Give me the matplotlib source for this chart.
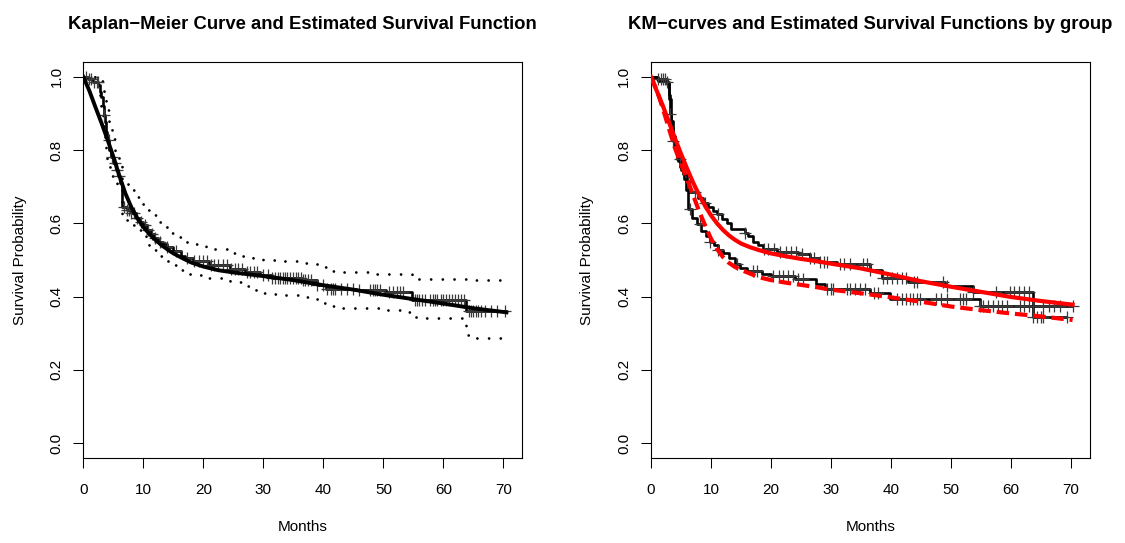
import numpy as np
import matplotlib
matplotlib.use("Agg")
import matplotlib.pyplot as plt

plt.rcParams['font.family'] = ['Liberation Sans', 'DejaVu Sans']

# ---------------- left panel: overall KM + fitted curve ----------------
km_t = [0, 0.8, 1.6, 2.5, 2.8, 3.0, 3.2, 3.4, 3.6, 3.8, 4.0, 4.3, 4.6, 5.0, 5.4, 5.8,
        6.1, 6.4, 7.2, 8.0, 8.8, 9.4, 10.0, 10.6, 11.2, 11.8, 12.4, 13.2, 14.0, 15.0,
        16.2, 17.0, 18.2, 21.0, 24.5, 27.0, 29.5, 31.5, 36.5, 39.0, 40.5, 45.5, 47.5,
        50.5, 54.8, 63.8]
km_s = [1.0, 0.993, 0.986, 0.978, 0.96, 0.945, 0.92, 0.895, 0.876, 0.85, 0.827, 0.80,
        0.781, 0.765, 0.745, 0.73, 0.71, 0.645, 0.637, 0.627, 0.615, 0.605, 0.595, 0.582,
        0.57, 0.56, 0.55, 0.543, 0.535, 0.525, 0.512, 0.505, 0.498, 0.487, 0.476, 0.466,
        0.458, 0.450, 0.444, 0.433, 0.422, 0.419, 0.417, 0.413, 0.390, 0.360]
km_end = 70.6

up_t = [0, 3.0, 3.4, 3.8, 4.3, 4.8, 5.3, 6.0, 6.4, 7.5, 8.6, 9.4, 10.5, 11.6, 12.7, 13.8,
        14.8, 16.0, 17.3, 18.5, 20.4, 22.0, 24.5, 26.0, 28.2, 30.0, 32.0, 36.5, 37.8,
        39.2, 40.5, 42.0, 47.5, 50.0, 54.8, 64.0]
up_s = [1.0, 0.99, 0.95, 0.91, 0.87, 0.83, 0.79, 0.77, 0.71, 0.69, 0.672, 0.654, 0.636,
        0.622, 0.604, 0.59, 0.574, 0.563, 0.549, 0.543, 0.536, 0.529, 0.52, 0.51, 0.505,
        0.50, 0.497, 0.493, 0.489, 0.48, 0.471, 0.467, 0.463, 0.461, 0.448, 0.445]
lo_t = [0, 2.5, 2.8, 3.0, 3.2, 3.4, 3.6, 3.8, 4.0, 4.4, 4.8, 5.2, 5.6, 6.4, 7.6, 8.8, 9.6,
        10.4, 11.0, 11.5, 12.5, 13.6, 14.8, 16.2, 17.5, 19.0, 21.0, 24.5, 27.0, 28.8,
        30.8, 32.5, 36.2, 37.8, 39.3, 40.8, 42.5, 50.0, 53.6, 54.8, 56.5, 63.8, 65.4]
lo_s = [1.0, 0.96, 0.945, 0.92, 0.89, 0.86, 0.83, 0.80, 0.775, 0.745, 0.73, 0.713, 0.69,
        0.61, 0.595, 0.581, 0.565, 0.554, 0.54, 0.527, 0.51, 0.497, 0.486, 0.472, 0.463,
        0.458, 0.45, 0.44, 0.43, 0.41, 0.406, 0.404, 0.399, 0.393, 0.383, 0.375, 0.370,
        0.363, 0.358, 0.344, 0.341, 0.295, 0.288]

cens_all = [0.5, 1.0, 1.3, 1.8, 2.2, 2.4, 3.5, 4.2, 4.8, 5.2, 5.6, 6.0, 6.8, 7.2, 7.6, 8.0,
            8.4, 9.0, 9.6, 10.2, 10.8, 11.4, 12.0, 12.8, 14.0, 15.5, 17.2, 18.5, 19.2, 20.0,
            20.6, 21.2, 21.8, 22.5, 23.2, 24.0, 24.6, 25.2, 25.8, 26.5, 27.2, 27.8, 28.5,
            29.0, 30.0, 30.8, 31.5, 32.0, 32.4, 32.8, 33.2, 33.6, 34.0, 34.4, 35.0, 35.4,
            35.8, 36.2, 36.6, 37.0, 37.4, 38.0, 39.0, 40.0, 40.6, 41.2, 41.6, 42.0, 43.0,
            44.0, 45.0, 46.0, 47.8, 48.2, 48.6, 49.0, 49.4, 51.0, 51.6, 52.2, 52.8, 53.3,
            55.2, 55.6, 56.0, 56.5, 57.0, 57.8, 58.2, 58.6, 59.0, 59.6, 60.0, 60.5, 61.0,
            61.5, 62.0, 62.5, 63.0, 63.5, 64.2, 64.6, 65.0, 65.4, 65.8, 66.2, 67.0, 68.0,
            69.0, 70.3]

fit_t = [0, 1, 2, 3, 4, 5, 6, 7, 8, 9, 10, 11, 12, 13, 14, 15, 16.5, 18, 20, 22.5, 25,
         27.5, 30, 35, 40, 45, 50, 55, 60, 65, 70.5]
fit_s = [1.0, 0.962, 0.918, 0.875, 0.83, 0.782, 0.73, 0.682, 0.644, 0.614, 0.59, 0.571,
         0.555, 0.541, 0.529, 0.518, 0.505, 0.493, 0.482, 0.472, 0.466, 0.461, 0.456, 0.445,
         0.431, 0.419, 0.405, 0.393, 0.381, 0.368, 0.357]

# ---------------- right panel: by group ----------------
g1_t = [0, 1.0, 2.6, 3.0, 3.2, 3.4, 3.7, 4.0, 4.4, 4.9, 5.4, 6.0, 6.4, 7.8, 8.7, 9.5,
        10.3, 11.0, 11.8, 12.6, 13.4, 15.6, 16.2, 17.0, 17.8, 18.6, 21.0, 24.5, 26.5,
        28.0, 31.0, 36.5, 38.5, 42.8, 49.0, 53.7, 63.7]
g1_s = [1.0, 0.995, 0.985, 0.95, 0.90, 0.86, 0.826, 0.80, 0.775, 0.755, 0.735, 0.715,
        0.685, 0.67, 0.655, 0.645, 0.635, 0.625, 0.613, 0.60, 0.585, 0.575, 0.565, 0.55,
        0.54, 0.53, 0.523, 0.515, 0.505, 0.495, 0.488, 0.472, 0.450, 0.441, 0.429, 0.413,
        0.343]
g1_end = 69.3
g1_cens = [1.2, 1.6, 2.0, 2.3, 2.6, 3.2, 3.7, 4.8, 7.3, 9.0, 11.2, 15.7, 18.8, 19.5,
           20.5, 21.5, 22.5, 23.4, 24.2, 25.2, 26.5, 27.2, 28.2, 28.8, 29.3, 31.5, 32.2,
           33.2, 35.4, 36.0, 36.5, 38.7, 39.4, 40.2, 41.0, 41.8, 42.6, 43.8, 44.3, 48.7,
           49.3, 53.7, 57.5, 59.8, 60.6, 61.4, 62.2, 63.0, 63.7, 64.3, 65.0, 65.4, 69.3]

g2_t = [0, 1.2, 2.6, 3.0, 3.3, 3.6, 4.0, 4.5, 5.0, 5.5, 5.9, 6.2, 6.8, 7.6, 8.4, 9.2,
        9.8, 10.5, 11.2, 12.0, 13.0, 14.0, 14.8, 16.0, 18.5, 20.0, 24.0, 27.5, 29.0, 36.5,
        39.8, 54.8]
g2_s = [1.0, 0.99, 0.98, 0.94, 0.88, 0.84, 0.80, 0.77, 0.745, 0.72, 0.69, 0.64, 0.615,
        0.598, 0.58, 0.565, 0.55, 0.54, 0.528, 0.518, 0.505, 0.49, 0.478, 0.47, 0.463,
        0.457, 0.449, 0.435, 0.422, 0.409, 0.393, 0.374]
g2_end = 70.4
g2_cens = [6.5, 8.2, 9.8, 11.2, 14.3, 17.0, 17.6, 20.4, 21.3, 22.0, 22.8, 23.6, 24.5, 25.4,
           29.3, 30.0, 30.4, 32.6, 33.2, 34.0, 34.8, 35.7, 37.1, 37.9, 41.0, 41.8, 42.5,
           43.2, 43.7, 44.3, 44.8, 47.6, 48.3, 49.3, 51.5, 52.0, 52.6, 54.8, 55.4, 56.2,
           57.0, 57.8, 58.6, 59.3, 61.5, 62.2, 63.0, 63.7, 65.4, 66.3, 67.2, 68.2, 70.4]

fit1_t = [0, 1, 2, 3, 4, 5, 6, 7, 8, 9, 10, 11, 12, 13, 14, 15, 16.5, 18, 20, 22.5, 25,
          27.5, 30, 35, 40, 45, 50, 55, 60, 65, 70.3]
fit1_s = [1.0, 0.96, 0.92, 0.876, 0.832, 0.79, 0.75, 0.712, 0.678, 0.648, 0.622, 0.60,
          0.582, 0.567, 0.555, 0.545, 0.535, 0.527, 0.518, 0.51, 0.503, 0.497, 0.49, 0.477,
          0.46, 0.442, 0.427, 0.413, 0.399, 0.388, 0.378]
fit2_t = fit1_t
fit2_s = [1.0, 0.962, 0.912, 0.858, 0.805, 0.762, 0.722, 0.678, 0.634, 0.595, 0.558, 0.53,
          0.508, 0.492, 0.481, 0.473, 0.463, 0.453, 0.445, 0.438, 0.432, 0.426, 0.419,
          0.409, 0.398, 0.386, 0.373, 0.363, 0.354, 0.346, 0.336]

x_ticks = [0, 10, 20, 30, 40, 50, 60, 70]
y_ticks = [0.0, 0.2, 0.4, 0.6, 0.8, 1.0]
y_ticklabels = ["0.0", "0.2", "0.4", "0.6", "0.8", "1.0"]


def step_at(ts, ss, x):
    ts = np.asarray(ts)
    idx = np.searchsorted(ts, x, side='right') - 1
    return np.asarray(ss)[idx]


def draw_km(ax, ts, ss, t_end, cens, lw=1.9):
    ax.step(list(ts) + [t_end], list(ss) + [ss[-1]], where='post', color='black',
            lw=lw, solid_capstyle='butt', zorder=3)
    ax.plot(cens, step_at(ts, ss, cens), ls='none', marker='+', ms=8, mew=0.9,
            color='#3a3a3a', zorder=4)


def style_axes(ax, title):
    ax.set_xlim(0, 73.15)
    ax.set_ylim(-0.04, 1.04)
    ax.set_xticks(x_ticks)
    ax.set_yticks(y_ticks)
    ax.set_yticklabels(y_ticklabels, rotation=90, va='center')
    ax.tick_params(direction='out', length=7.2, width=0.75, labelsize=11, color='black')
    ax.tick_params(axis='x', pad=11)
    ax.tick_params(axis='y', pad=7)
    for sp in ax.spines.values():
        sp.set_linewidth(0.8)
        sp.set_color('black')
    ax.set_xlabel("Months", fontsize=11)
    ax.xaxis.set_label_coords(0.5, -0.157)
    ax.set_ylabel("Survival Probability", fontsize=11)
    ax.yaxis.set_label_coords(-0.129, 0.5)
    ax.text(0.5, 1.084, title, transform=ax.transAxes, ha='center', va='baseline',
            fontsize=13.3, fontweight='bold')


fig = plt.figure(figsize=(11.25, 5.43), dpi=100)
ax1 = fig.add_axes([0.0741, 0.1571, 0.3902, 0.7282])
ax2 = fig.add_axes([0.5787, 0.1571, 0.3899, 0.7282])

# left
dot = (0, (0.01, 4.2))
ax1.step(up_t + [km_end], up_s + [up_s[-1]], where='post', color='black', lw=2.0,
         ls=dot, dash_capstyle='round', zorder=2)
ax1.step(lo_t + [km_end], lo_s + [lo_s[-1]], where='post', color='black', lw=2.0,
         ls=dot, dash_capstyle='round', zorder=2)
draw_km(ax1, km_t, km_s, km_end, cens_all)
ax1.plot(fit_t, fit_s, color='black', lw=2.8, zorder=5)
style_axes(ax1, "Kaplan\u2212Meier Curve and Estimated Survival Function")

# right
draw_km(ax2, g1_t, g1_s, g1_end, g1_cens)
draw_km(ax2, g2_t, g2_s, g2_end, g2_cens)
ax2.plot(fit1_t, fit1_s, color='red', lw=3.0, zorder=5)
ax2.plot(fit2_t, fit2_s, color='red', lw=3.0, ls=(0, (3, 1.4)), zorder=5)
style_axes(ax2, "KM\u2212curves and Estimated Survival Functions by group")

fig.savefig("out.png", dpi=100)
